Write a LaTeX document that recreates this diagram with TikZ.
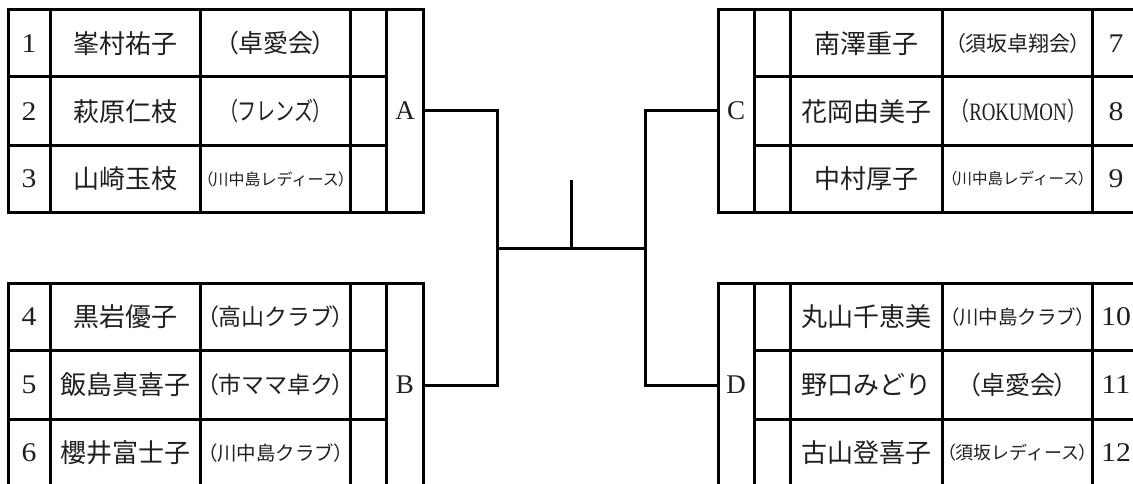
\documentclass[tikz,border=0pt]{standalone}
\usepackage{fontspec}
\usepackage{graphicx}
\setmainfont{Liberation Serif}
\newfontfamily\cjk{Noto Sans CJK JP}
\newcommand\hfit[2]{\resizebox{#1}{\height}{#2}}
\newcommand\clb[1]{（\kern-.06em#1\kern-.06em）}
\newcommand\nb[1]{\scalebox{1.1}[1]{#1}}
\begin{document}
\begin{tikzpicture}[x=1pt,y=-1pt,
  grid/.style={line width=3pt,line cap=rect},
  conn/.style={line width=3pt},
  cell/.style={inner sep=0pt,text=black!88},
  numt/.style={cell,font=\fontsize{27}{27}\selectfont},
  namet/.style={cell,font=\fontsize{26}{26}\selectfont\cjk},
  clubt/.style={cell,font=\fontsize{25}{25}\selectfont\cjk},
  lett/.style={cell,font=\fontsize{27}{27}\selectfont},
]
\useasboundingbox (0,0) rectangle (1133,484);
% tables
\foreach \a/\b/\c/\d in {9.5/77/146/212, 283.3/350/419.3/487}{
  \draw[grid] (8,\a) rectangle (423.3,\d);
  \foreach \x in {50,200.7,350.7,386.7} \draw[grid] (\x,\a) -- (\x,\d);
  \draw[grid] (8,\b) -- (386.7,\b) (8,\c) -- (386.7,\c);
  \draw[grid] (718.3,\a) rectangle (1138,\d);
  \foreach \x in {754,790.7,942.7,1092.7} \draw[grid] (\x,\a) -- (\x,\d);
  \draw[grid] (754,\b) -- (1138,\b) (754,\c) -- (1138,\c);
}
% left numbers / names / clubs
\node[numt] (n1) at (29,43.25) {\nb{1}};
\node[numt] (n2) at (29,111.5) {\nb{2}};
\node[numt] (n3) at (29,179) {\nb{3}};
\node[numt] (n4) at (29,316.7) {\nb{4}};
\node[numt] (n5) at (29,384.7) {\nb{5}};
\node[numt] (n6) at (29,453) {\nb{6}};
\node[namet] (p1) at (125.35,43.25) {峯村祐子};
\node[namet] (p2) at (125.35,111.5) {萩原仁枝};
\node[namet] (p3) at (125.35,179) {山崎玉枝};
\node[namet] (p4) at (125.35,316.7) {黒岩優子};
\node[namet] (p5) at (125.35,384.7) {飯島真喜子};
\node[namet] (p6) at (125.35,453) {櫻井富士子};
\node[clubt] (c1) at (275.7,43.25) {\clb{卓愛会}};
\node[clubt] (c2) at (275.7,111.5) {\hfit{112pt}{\clb{フレンズ}}};
\node[clubt,font=\fontsize{16}{16}\selectfont\cjk] (c3) at (275.7,179) {\clb{川中島レディース}};
\node[clubt,font=\fontsize{23}{23}\selectfont\cjk] (c4) at (275.7,316.7) {\clb{高山クラブ}};
\node[clubt,font=\fontsize{23}{23}\selectfont\cjk] (c5) at (275.7,384.7) {\clb{市ママ卓ク}};
\node[clubt,font=\fontsize{19.5}{19.5}\selectfont\cjk] (c6) at (275.7,453) {\clb{川中島クラブ}};
% right
\node[namet] (p7) at (866.7,43.25) {南澤重子};
\node[namet] (p8) at (866.7,111.5) {花岡由美子};
\node[namet] (p9) at (866.7,179) {中村厚子};
\node[namet] (p10) at (866.7,316.7) {丸山千恵美};
\node[namet] (p11) at (866.7,384.7) {野口みどり};
\node[namet] (p12) at (866.7,453) {古山登喜子};
\node[clubt,font=\fontsize{21}{21}\selectfont\cjk] (c7) at (1018,43.25) {\clb{須坂卓翔会}};
\node[clubt] (c8) at (1018,111.5) {\hfit{136pt}{（\kern.02em{\normalfont ROKUMON}\kern.02em）}};
\node[clubt,font=\fontsize{15.5}{15.5}\selectfont\cjk] (c9) at (1017.7,179) {\clb{川中島レディース}};
\node[clubt,font=\fontsize{19.5}{19.5}\selectfont\cjk] (c10) at (1017.7,316.7) {\clb{川中島クラブ}};
\node[clubt] (c11) at (1017.7,384.7) {\clb{卓愛会}};
\node[clubt,font=\fontsize{18}{18}\selectfont\cjk] (c12) at (1017.7,453) {\clb{須坂レディース}};
\node[numt] (n7) at (1116,43.25) {\nb{7}};
\node[numt] (n8) at (1116,111.5) {\nb{8}};
\node[numt] (n9) at (1116,179) {\nb{9}};
\node[numt] (n10) at (1116,316.7) {\nb{10}};
\node[numt] (n11) at (1116,384.7) {\nb{11}};
\node[numt] (n12) at (1116,453) {\nb{12}};
% group letters
\node[lett,minimum width=36.6pt,minimum height=202.5pt] (A) at (405,110.75) {A};
\node[lett,minimum width=36.6pt,minimum height=203.7pt] (B) at (405,385.15) {B};
\node[lett,minimum width=35.7pt,minimum height=202.5pt] (C) at (736.15,110.75) {C};
\node[lett,minimum width=35.7pt,minimum height=203.7pt] (D) at (736.15,385.15) {D};
% bracket
\coordinate (jl) at (497,248);
\coordinate (jr) at (645,248);
\coordinate (cm) at (571,248);
\coordinate (ct) at (571,180);
\draw[conn] (A.east) -| (jl);
\draw[conn] (B.east) -| (jl);
\draw[conn] (C.west) -| (jr);
\draw[conn] (D.west) -| (jr);
\draw[conn] (jl) -- (jr);
\draw[conn] (cm) -- (ct);
\end{tikzpicture}
\end{document}
